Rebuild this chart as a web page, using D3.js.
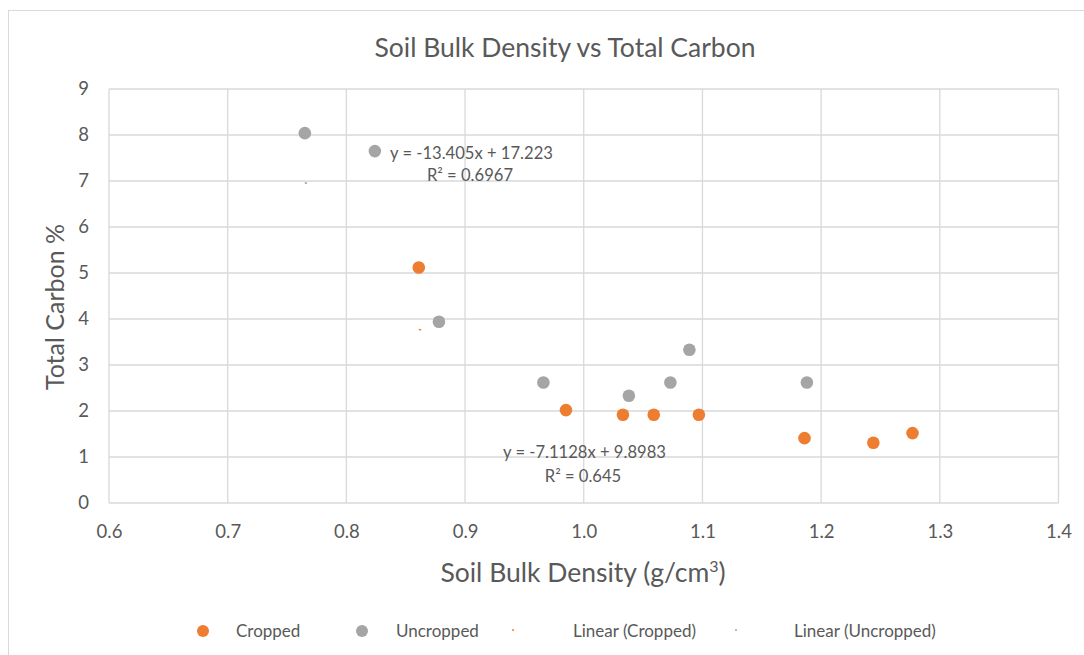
<!DOCTYPE html>
<html>
<head>
<meta charset="utf-8">
<script src="https://cdn.jsdelivr.net/npm/d3@7"></script>
<style>
  body { margin: 0; background: #fff; }
  text { font-family: Lato, "Open Sans", sans-serif; fill: #595959; }
</style>
</head>
<body>
<div id="chart"></div>
<script>
// data
var croppedX = [0.861, 0.985, 1.033, 1.059, 1.097, 1.186, 1.244, 1.277];
var croppedY = [5.12, 2.02, 1.92, 1.92, 1.92, 1.41, 1.31, 1.52];
var uncroppedX = [0.765, 0.824, 0.878, 0.966, 1.038, 1.073, 1.089, 1.188];
var uncroppedY = [8.04, 7.65, 3.94, 2.62, 2.33, 2.62, 3.33, 2.62];
var xTicks = [0.6, 0.7, 0.8, 0.9, 1.0, 1.1, 1.2, 1.3, 1.4];
var yTicks = [0, 1, 2, 3, 4, 5, 6, 7, 8, 9];
var trendCropped = {slope: -7.1128, icpt: 9.8983, eq: "y = -7.1128x + 9.8983", r2: "R² = 0.645"};
var trendUncropped = {slope: -13.405, icpt: 17.223, eq: "y = -13.405x + 17.223", r2: "R² = 0.6967"};
var legendLabels = ["Cropped", "Uncropped", "Linear (Cropped)", "Linear (Uncropped)"];

var W = 1084, H = 655;
var orange = "#ED7D31", gray = "#A5A5A5";

var svg = d3.select("#chart").append("svg")
    .attr("width", W)
    .attr("height", H);

// chart area border
svg.append("rect")
    .attr("x", 8.5).attr("y", 10.5)
    .attr("width", 1200).attr("height", 800)
    .attr("fill", "#fff")
    .attr("stroke", "#d9d9d9")
    .attr("stroke-width", 1);

var x = d3.scaleLinear().domain([0.6, 1.4]).range([109, 1058.5]);
var y = d3.scaleLinear().domain([0, 9]).range([503, 89]);

// gridlines
svg.append("g").selectAll("line")
    .data(yTicks).enter().append("line")
    .attr("x1", x(0.6)).attr("x2", x(1.4))
    .attr("y1", function(d) { return y(d); })
    .attr("y2", function(d) { return y(d); })
    .attr("stroke", "#d9d9d9").attr("stroke-width", 1.3);
svg.append("g").selectAll("line")
    .data(xTicks).enter().append("line")
    .attr("y1", y(0)).attr("y2", y(9))
    .attr("x1", function(d) { return x(d); })
    .attr("x2", function(d) { return x(d); })
    .attr("stroke", "#d9d9d9").attr("stroke-width", 1.3);

// axes (labels only)
var xAxis = svg.append("g")
    .attr("transform", "translate(0," + y(0) + ")")
    .call(d3.axisBottom(x).tickValues(xTicks).tickSize(0).tickPadding(22)
        .tickFormat(d3.format(".1f")));
var yAxis = svg.append("g")
    .attr("transform", "translate(" + x(0.6) + ",0)")
    .call(d3.axisLeft(y).tickValues(yTicks).tickSize(0).tickPadding(20));
[xAxis, yAxis].forEach(function(a) {
    a.select(".domain").remove();
    a.selectAll("text").attr("font-size", "18.5px").attr("fill", "#595959")
        .style("font-family", "Lato, 'Open Sans', sans-serif");
});

// title + axis titles
svg.append("text").attr("x", 565).attr("y", 57)
    .attr("text-anchor", "middle").attr("font-size", "26.5px")
    .text("Soil Bulk Density vs Total Carbon");
svg.append("text")
    .attr("transform", "translate(64," + 307 + ") rotate(-90)")
    .attr("text-anchor", "middle").attr("font-size", "25px")
    .text("Total Carbon %");
var xt = svg.append("text").attr("x", 583).attr("y", 582)
    .attr("text-anchor", "middle").attr("font-size", "26.5px");
xt.append("tspan").text("Soil Bulk Density (g/cm");
xt.append("tspan").attr("font-size", "16px").attr("dy", -10).text("3");
xt.append("tspan").attr("dy", 10).text(")");

// trendlines - only a tiny dash shows, as in the picture
function trend(xs, t, color) {
    var x0 = d3.min(xs), x1 = d3.max(xs);
    svg.append("line")
        .attr("x1", x(x0)).attr("y1", y(t.slope * x0 + t.icpt))
        .attr("x2", x(x1)).attr("y2", y(t.slope * x1 + t.icpt))
        .attr("stroke", color).attr("stroke-width", 1.5)
        .attr("stroke-dasharray", "2.5 100000");
}
trend(croppedX, trendCropped, orange);
trend(uncroppedX, trendUncropped, gray);

// points
function points(xs, ys, color) {
    svg.append("g").selectAll("circle")
        .data(d3.zip(xs, ys)).enter().append("circle")
        .attr("cx", function(d) { return x(d[0]); })
        .attr("cy", function(d) { return y(d[1]); })
        .attr("r", 6.3)
        .attr("fill", color);
}
points(uncroppedX, uncroppedY, gray);
points(croppedX, croppedY, orange);

// trendline labels
function trendLabel(t, ex, ey, rx, ry) {
    svg.append("text").attr("x", ex).attr("y", ey).attr("font-size", "16.6px")
        .attr("fill", "#404040").text(t.eq);
    svg.append("text").attr("x", rx).attr("y", ry).attr("font-size", "16.6px")
        .attr("text-anchor", "middle").attr("fill", "#404040").text(t.r2);
}
trendLabel(trendUncropped, 390, 159, 470, 181);
trendLabel(trendCropped, 503, 458, 583, 482);

// legend
var lg = svg.append("g");
var legendX = [236, 396, 573, 794];
lg.append("circle").attr("cx", 203).attr("cy", 631).attr("r", 6).attr("fill", orange);
lg.append("circle").attr("cx", 362).attr("cy", 631).attr("r", 6).attr("fill", gray);
lg.append("line").attr("x1", 512).attr("x2", 546).attr("y1", 630).attr("y2", 630)
    .attr("stroke", orange).attr("stroke-width", 1.5).attr("stroke-dasharray", "2 100000");
lg.append("line").attr("x1", 735).attr("x2", 786).attr("y1", 630).attr("y2", 630)
    .attr("stroke", gray).attr("stroke-width", 1.5).attr("stroke-dasharray", "2 100000");
lg.selectAll("text.leg").data(legendLabels).enter().append("text")
    .attr("class", "leg")
    .attr("x", function(d, i) { return legendX[i]; })
    .attr("y", 637)
    .attr("font-size", "17px")
    .text(function(d) { return d; });
</script>
</body>
</html>
